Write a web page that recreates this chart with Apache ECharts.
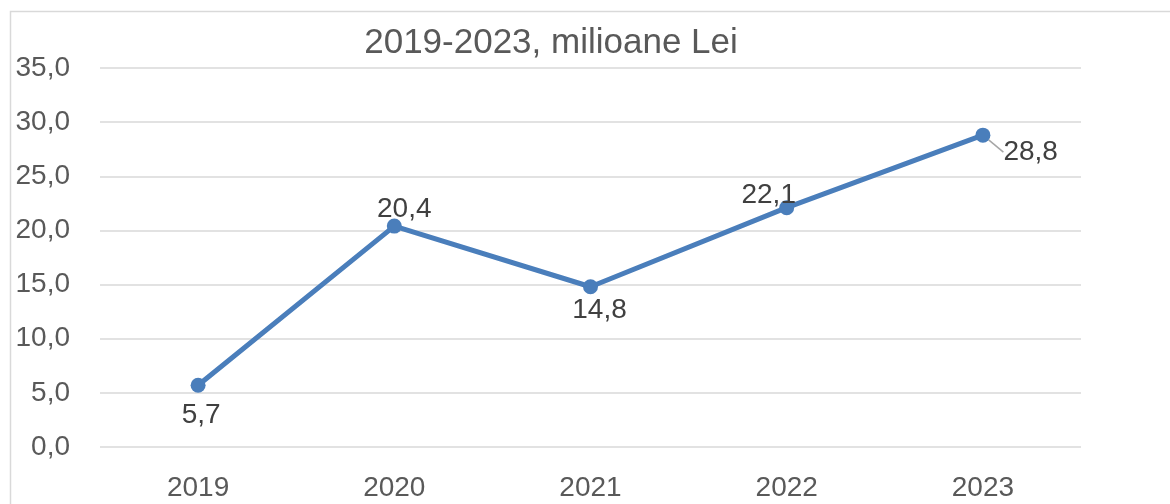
<!DOCTYPE html>
<html><head><meta charset="utf-8">
<script src="https://cdn.jsdelivr.net/npm/echarts@6/dist/echarts.min.js"></script>
<style>html,body{margin:0;padding:0;background:#fff}#c{width:1170px;height:504px}</style>
</head><body><div id="c"></div>
<script>
const categories = ['2019','2020','2021','2022','2023'];
const values = [5.7, 20.4, 14.8, 22.1, 28.8];
const labelPositions = ['bottom','top','bottom','top','right'];
const titleText = '2019-2023, milioane Lei';
const FONT = 'Liberation Sans';
const fmt = v => v.toFixed(1).replace('.', ',');
const labelShift = [[3, 0], [10, 10], [9, -3], [-18, 14], [8, 17]];

const chart = echarts.init(document.getElementById('c'), null, {renderer:'canvas'});
const data = values.map((v,i)=>{
  const item = {value: v, label: {position: labelPositions[i], distance: 5}};
  if (i === 0) item.label.distance = 9;
  if (i === 4) { item.labelLine = {show: true}; }
  return item;
});
chart.setOption({
  animation: false,
  title: {text: titleText, left: 546, textAlign: 'center', top: 21,
    textStyle: {fontFamily: FONT, fontSize: 35, fontWeight: 'normal', color: '#595959'}},
  graphic: [{type:'rect', shape:{x:10.5, y:11.5, width:1300, height:700},
    style:{fill:'none', stroke:'#d9d9d9', lineWidth:1.5}, z:-1}],
  grid: {left: 100, right: 89, top: 68, bottom: 57},
  xAxis: {type:'category', data: categories, boundaryGap: true,
    axisLine:{show:false}, axisTick:{show:false},
    axisLabel:{fontFamily: FONT, fontSize: 28, color:'#595959', margin: 27}},
  yAxis: {type:'value', min:0, max:35, interval:5,
    axisLine:{show:false}, axisTick:{show:false},
    splitLine:{lineStyle:{color:'#d9d9d9', width:1.5}},
    axisLabel:{fontFamily: FONT, fontSize: 28, color:'#595959', margin: 30, formatter: v=>fmt(v)}},
  series: [{type:'line', data: data, symbol:'circle', symbolSize: 15,
    lineStyle:{color:'#4a7ebb', width:5}, itemStyle:{color:'#4a7ebb'},
    label:{show:true, fontFamily: FONT, fontSize: 28, color:'#404040', formatter: p=>fmt(p.value)},
    labelLine:{show:false, lineStyle:{color:'#a6a6a6', width:1.5}},
    labelLayout: p => ({dx: labelShift[p.dataIndex][0], dy: labelShift[p.dataIndex][1]})
  }]
});
</script></body></html>
